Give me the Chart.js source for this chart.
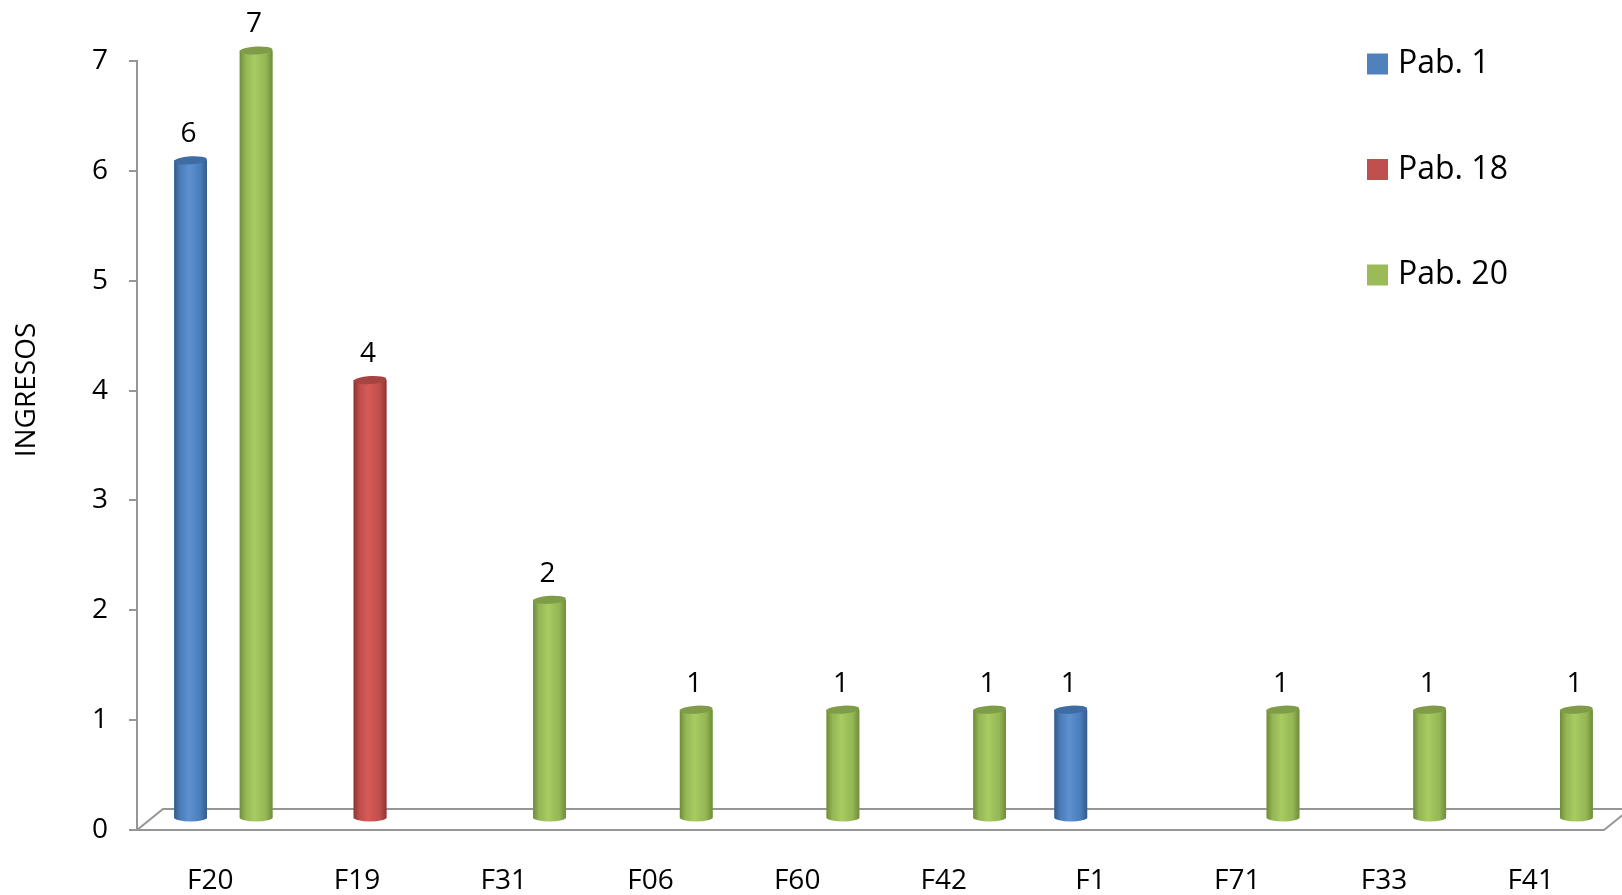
<!DOCTYPE html>
<html>
<head>
<meta charset="utf-8">
<script src="https://cdn.jsdelivr.net/npm/chart.js@4.4.6/dist/chart.umd.min.js"></script>
<style>
  html, body { margin: 0; padding: 0; background: #fff; }
  #c { display: block; }
</style>
</head>
<body>
<canvas id="c" width="1622" height="895"></canvas>
<script>
const categories = ['F20', 'F19', 'F31', 'F06', 'F60', 'F42', 'F1', 'F71', 'F33', 'F41'];
const pab1  = [6, null, null, null, null, null, 1, null, null, null];
const pab18 = [null, 4, null, null, null, null, null, null, null, null];
const pab20 = [7, null, 2, 1, 1, 1, null, 1, 1, 1];
const seriesNames = ['Pab. 1', 'Pab. 18', 'Pab. 20'];
const yTicks = [0, 1, 2, 3, 4, 5, 6, 7];
const axisTitle = 'INGRESOS';

// base, dark edge, light highlight, top cap
const shades = [
  { base: '#4F81BD', dark: '#345b8a', mid: '#4a7cb8', light: '#5d91d1', top: '#3e6ca3' },
  { base: '#C0504D', dark: '#8c3533', mid: '#bf4e4b', light: '#d65b58', top: '#a64441' },
  { base: '#9BBB59', dark: '#6f8c3b', mid: '#94b654', light: '#a8cb62', top: '#7f9d48' }
];
const FONT = '"Open Sans", "Liberation Sans", sans-serif';
const GRID = '#969696';
const DEPTH = { dx: 26, dy: -21 };

const floorAndDepth = {
  id: 'floorAndDepth',
  beforeDatasetsDraw(chart) {
    const { ctx, chartArea: a } = chart;
    ctx.save();
    ctx.strokeStyle = GRID;
    ctx.lineWidth = 2;
    ctx.beginPath();
    ctx.moveTo(a.left, a.bottom);
    ctx.lineTo(a.right, a.bottom);
    ctx.lineTo(a.right + DEPTH.dx, a.bottom + DEPTH.dy);
    ctx.moveTo(a.left, a.bottom);
    ctx.lineTo(a.left + DEPTH.dx, a.bottom + DEPTH.dy);
    ctx.lineTo(a.right + DEPTH.dx + 40, a.bottom + DEPTH.dy);
    ctx.stroke();
    ctx.restore();
    // bars sit half way into the depth of the floor
    ctx.save();
    ctx.translate(DEPTH.dx / 2, DEPTH.dy / 2);
  },
  afterDatasetsDraw(chart) {
    const { ctx } = chart;
    chart.data.datasets.forEach((ds, di) => {
      const meta = chart.getDatasetMeta(di);
      const s = shades[di];
      meta.data.forEach((bar, i) => {
        if (ds.data[i] == null) return;
        const { x, y, base, width } = bar.getProps(['x', 'y', 'base', 'width'], true);
        const l = x - width / 2, rx = width / 2, ry = 4;
        const g = ctx.createLinearGradient(l, 0, l + width, 0);
        g.addColorStop(0, s.dark);
        g.addColorStop(0.18, s.mid);
        g.addColorStop(0.45, s.light);
        g.addColorStop(0.8, s.mid);
        g.addColorStop(1, s.dark);
        ctx.fillStyle = g;
        ctx.beginPath();
        ctx.ellipse(x, base - 1, rx, ry, 0, 0, Math.PI);
        ctx.lineTo(l, y);
        ctx.lineTo(l + width, y);
        ctx.closePath();
        ctx.fill();
        ctx.fillStyle = s.top;
        ctx.beginPath();
        ctx.ellipse(x, y, rx, ry, -0.06, 0, Math.PI * 2);
        ctx.fill();
        ctx.fillStyle = '#000';
        ctx.font = '28px ' + FONT;
        ctx.textAlign = 'center';
        ctx.textBaseline = 'middle';
        ctx.fillText(String(ds.data[i]), x - 2, y - 26);
      });
    });
    ctx.restore();
  },
  afterDraw(chart) {
    const { ctx } = chart;
    ctx.save();
    // axis title
    ctx.translate(27, 390);
    ctx.rotate(-Math.PI / 2);
    ctx.fillStyle = '#000';
    ctx.font = '28px ' + FONT;
    ctx.textAlign = 'center';
    ctx.textBaseline = 'middle';
    ctx.fillText(axisTitle, 0, 0);
    ctx.restore();
    // legend
    ctx.save();
    ctx.font = '32px ' + FONT;
    ctx.textBaseline = 'middle';
    ctx.textAlign = 'left';
    chart.data.datasets.forEach((ds, di) => {
      const cy = 64 + di * 105.5;
      ctx.fillStyle = shades[di].base;
      ctx.fillRect(1367, cy - 10.5, 21, 21);
      ctx.fillStyle = '#000';
      ctx.fillText(ds.label, 1398, cy);
    });
    ctx.restore();
  }
};

const series = [pab1, pab18, pab20];
new Chart(document.getElementById('c'), {
  type: 'bar',
  data: {
    labels: categories,
    datasets: series.map((d, i) => ({
      label: seriesNames[i],
      data: d,
      backgroundColor: shades[i].base,
      categoryPercentage: 0.67,
      barPercentage: 1.0,
      clip: false
    }))
  },
  options: {
    responsive: false,
    animation: false,
    events: [],
    layout: { padding: { top: 61, right: 18, left: 0, bottom: 0 } },
    plugins: { legend: { display: false }, tooltip: { enabled: false } },
    scales: {
      x: {
        grid: { display: false, drawTicks: false },
        border: { display: false },
        ticks: { color: '#000', font: { family: FONT, size: 28 }, padding: 34, maxRotation: 0 },
        afterFit(scale) { scale.height = 65; }
      },
      y: {
        min: yTicks[0],
        max: yTicks[yTicks.length - 1],
        afterBuildTicks(scale) { scale.ticks = yTicks.map(v => ({ value: v })); },
        grid: { drawOnChartArea: false, drawTicks: true, tickLength: 8, color: GRID, lineWidth: 2 },
        border: { display: true, color: GRID, width: 2 },
        ticks: { color: '#000', font: { family: FONT, size: 28 }, padding: 21 },
        afterFit(scale) { scale.width = 137; }
      }
    }
  },
  plugins: [floorAndDepth]
});
</script>
</body>
</html>
